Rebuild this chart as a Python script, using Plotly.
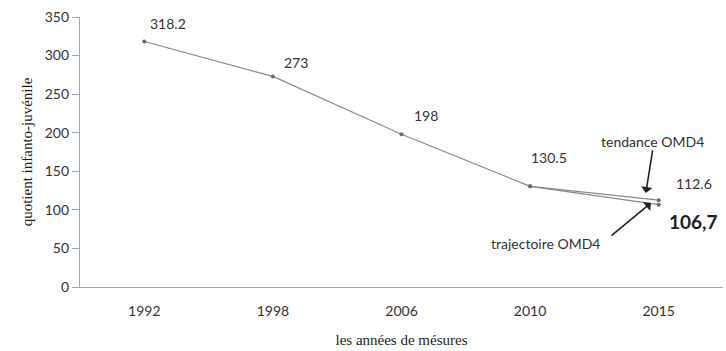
import plotly.graph_objects as go

# Under-five mortality (quotient infanto-juvénile) by survey year
years = ["1992", "1998", "2006", "2010", "2015"]
quotient = [318.2, 273, 198, 130.5, 112.6]
# MDG4 trajectory branch, starting from the 2010 measurement
traj_years = ["2010", "2015"]
traj_values = [130.5, 106.7]

line_color = "#8a8a8a"
text_color = "#333333"
label_font = dict(family="Lato, Open Sans, sans-serif", size=14, color=text_color)
serif_font = dict(family="Liberation Serif, serif", size=15, color="#1e1e1e")

fig = go.Figure()
fig.add_trace(go.Scatter(
    x=years, y=quotient, mode="lines+markers",
    line=dict(color=line_color, width=1.2),
    marker=dict(size=4, color="#6a6a6a"),
    name="tendance", showlegend=False,
))
fig.add_trace(go.Scatter(
    x=traj_years, y=traj_values, mode="lines+markers",
    line=dict(color=line_color, width=1.2),
    marker=dict(size=4, color="#6a6a6a"),
    name="trajectoire", showlegend=False,
))

# value labels beside each point (category index positions)
shifts = [(24, 18), (23, 14), (24, 19), (19, 29), (35, 17)]
for i, (v, (dx, dy)) in enumerate(zip(quotient, shifts)):
    fig.add_annotation(x=i, y=v, text=f"{v:g}", showarrow=False,
                       xshift=dx, yshift=dy, font=label_font)
fig.add_annotation(x=years.index(traj_years[-1]), y=traj_values[-1],
                   text=f"<b>{traj_values[-1]:g}</b>".replace(".", ","),
                   showarrow=False, xshift=35, yshift=-17,
                   font=dict(family="Lato, Open Sans, sans-serif", size=19, color="#1e1e1e"))

# arrows pointing at the two 2015 end points
fig.add_annotation(x=3.90, y=122, text="", showarrow=True, ax=7, ay=-44,
                   arrowhead=1, arrowsize=1.2, arrowwidth=1.6, arrowcolor="#222222")
fig.add_annotation(x=3.94, y=109, text="", showarrow=True, ax=-41, ay=34,
                   arrowhead=1, arrowsize=1.2, arrowwidth=1.6, arrowcolor="#222222")
fig.add_annotation(x=3.95, y=188, text="tendance OMD4", showarrow=False,
                   font=label_font)
fig.add_annotation(x=3.12, y=57, text="trajectoire OMD4", showarrow=False,
                   font=label_font)

fig.update_layout(
    width=726, height=351,
    margin=dict(l=80, r=3, t=17, b=64),
    paper_bgcolor="white", plot_bgcolor="white",
    xaxis=dict(
        type="category", range=[-0.5, 4.5],
        showline=True, linecolor="#a6a6a6", linewidth=1.2,
        ticks="", showgrid=False, zeroline=False,
        tickfont=label_font, ticklabelstandoff=11,
        title=dict(text="les années de mésures", standoff=16, font=serif_font),
    ),
    yaxis=dict(
        range=[0, 350], dtick=50,
        showline=True, linecolor="#a6a6a6", linewidth=1.2,
        ticks="outside", ticklen=7, tickcolor="#a6a6a6",
        showgrid=False, zeroline=False,
        tickfont=label_font,
        title=dict(text="quotient infanto-juvénile", standoff=8, font=serif_font),
    ),
)

fig.write_html("out.html")
